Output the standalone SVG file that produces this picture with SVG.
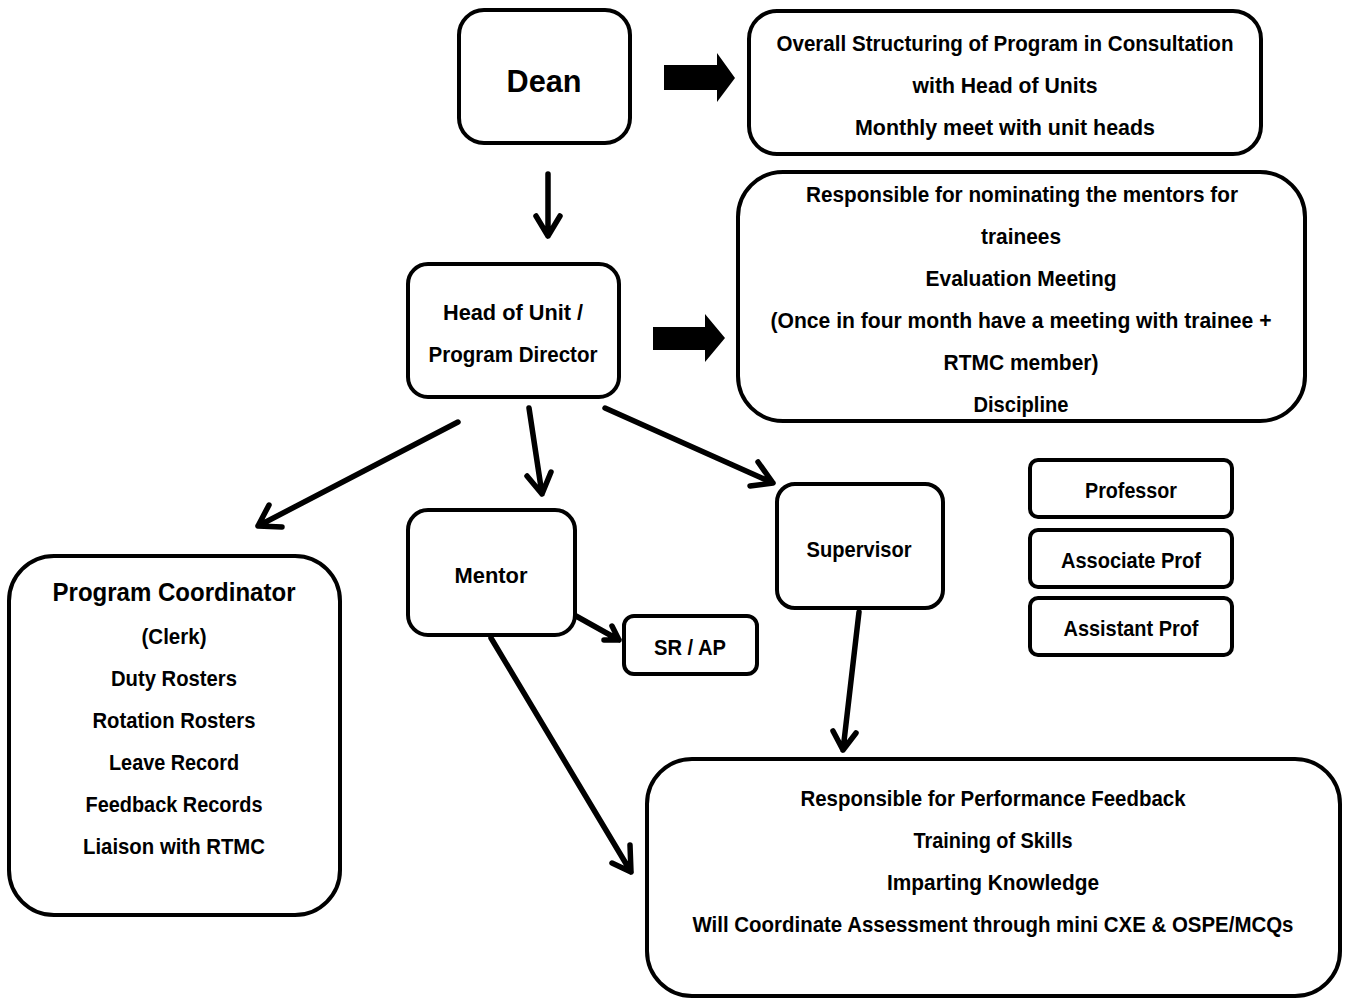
<svg xmlns="http://www.w3.org/2000/svg" width="1346" height="998" viewBox="0 0 1346 998">
<style>
.box{fill:#fff;stroke:#000;stroke-width:4}
.t{font-family:"Liberation Sans",Arial,sans-serif;font-weight:bold;font-size:22px;fill:#000;text-anchor:middle}
.big{font-size:31px}
.mid{font-size:26px}
.ln{fill:none;stroke:#000;stroke-width:5.5;stroke-linecap:round;stroke-linejoin:round}
.blk{fill:#000}
</style>
<rect width="1346" height="998" fill="#fff"/>
<g id="connectors">
<polygon class="blk" points="664,65 717,65 717,53 735,78 717,102 717,90 664,90"/>
<polygon class="blk" points="653,327 705,327 705,314 725,338 705,362 705,350 653,350"/>
<path class="ln" d="M548,174 L548,236 M536,216 L548,236 L560,216"/>
<path class="ln" d="M458,422 L258,526 M269,505 L258,526 L282,527"/>
<path class="ln" d="M529,408 L542,494 M527,476 L542,494 L551,472"/>
<path class="ln" d="M605,408 L773,483 M758,462 L773,483 L750,486"/>
<path class="ln" d="M576,616 L619,640 M604,640 L619,640 L612,626"/>
<path class="ln" d="M859,612 L843,750 M833,731 L843,750 L856,733"/>
<path class="ln" d="M491,638 L631,872 M612,863 L631,872 L630,845"/>
</g>
<g id="dean"><rect class="box" x="459" y="10" width="171" height="133" rx="25"/><text class="t big" x="544" y="92" textLength="75" lengthAdjust="spacingAndGlyphs">Dean</text></g>
<g id="overall"><rect class="box" x="749" y="11" width="512" height="143" rx="28"/>
<text class="t" x="1005" y="51" textLength="457" lengthAdjust="spacingAndGlyphs">Overall Structuring of Program in Consultation</text>
<text class="t" x="1005" y="93" textLength="185" lengthAdjust="spacingAndGlyphs">with Head of Units</text>
<text class="t" x="1005" y="135" textLength="300" lengthAdjust="spacingAndGlyphs">Monthly meet with unit heads</text></g>
<g id="responsible"><rect class="box" x="738" y="172" width="567" height="249" rx="45"/>
<text class="t" x="1022" y="202" textLength="432" lengthAdjust="spacingAndGlyphs">Responsible for nominating the mentors for</text>
<text class="t" x="1021" y="244" textLength="80" lengthAdjust="spacingAndGlyphs">trainees</text>
<text class="t" x="1021" y="286" textLength="191" lengthAdjust="spacingAndGlyphs">Evaluation Meeting</text>
<text class="t" x="1021" y="328" textLength="501" lengthAdjust="spacingAndGlyphs">(Once in four month have a meeting with trainee +</text>
<text class="t" x="1021" y="370" textLength="155" lengthAdjust="spacingAndGlyphs">RTMC member)</text>
<text class="t" x="1021" y="412" textLength="95" lengthAdjust="spacingAndGlyphs">Discipline</text></g>
<g id="head"><rect class="box" x="408" y="264" width="211" height="133" rx="20"/>
<text class="t" x="513" y="320" textLength="140" lengthAdjust="spacingAndGlyphs">Head of Unit /</text>
<text class="t" x="513" y="362" textLength="169" lengthAdjust="spacingAndGlyphs">Program Director</text></g>
<g id="coordinator"><rect class="box" x="9" y="556" width="331" height="359" rx="45"/>
<text class="t mid" x="174" y="601" textLength="243" lengthAdjust="spacingAndGlyphs">Program Coordinator</text>
<text class="t" x="174" y="644" textLength="65" lengthAdjust="spacingAndGlyphs">(Clerk)</text>
<text class="t" x="174" y="686" textLength="126" lengthAdjust="spacingAndGlyphs">Duty Rosters</text>
<text class="t" x="174" y="728" textLength="163" lengthAdjust="spacingAndGlyphs">Rotation Rosters</text>
<text class="t" x="174" y="770" textLength="130" lengthAdjust="spacingAndGlyphs">Leave Record</text>
<text class="t" x="174" y="812" textLength="177" lengthAdjust="spacingAndGlyphs">Feedback Records</text>
<text class="t" x="174" y="854" textLength="182" lengthAdjust="spacingAndGlyphs">Liaison with RTMC</text></g>
<g id="mentor"><rect class="box" x="408" y="510" width="167" height="125" rx="20"/><text class="t" x="491" y="583" textLength="73" lengthAdjust="spacingAndGlyphs">Mentor</text></g>
<g id="srap"><rect class="box" x="624" y="616" width="133" height="58" rx="10"/><text class="t" x="690" y="655" textLength="72" lengthAdjust="spacingAndGlyphs">SR / AP</text></g>
<g id="supervisor"><rect class="box" x="777" y="484" width="166" height="124" rx="18"/><text class="t" x="859" y="557" textLength="105" lengthAdjust="spacingAndGlyphs">Supervisor</text></g>
<g id="professor"><rect class="box" x="1030" y="460" width="202" height="57" rx="8"/><text class="t" x="1131" y="498" textLength="92" lengthAdjust="spacingAndGlyphs">Professor</text></g>
<g id="associate"><rect class="box" x="1030" y="530" width="202" height="57" rx="8"/><text class="t" x="1131" y="568" textLength="140" lengthAdjust="spacingAndGlyphs">Associate Prof</text></g>
<g id="assistant"><rect class="box" x="1030" y="598" width="202" height="57" rx="8"/><text class="t" x="1131" y="636" textLength="135" lengthAdjust="spacingAndGlyphs">Assistant Prof</text></g>
<g id="performance"><rect class="box" x="647" y="759" width="693" height="237" rx="45"/>
<text class="t" x="993" y="806" textLength="385" lengthAdjust="spacingAndGlyphs">Responsible for Performance Feedback</text>
<text class="t" x="993" y="848" textLength="159" lengthAdjust="spacingAndGlyphs">Training of Skills</text>
<text class="t" x="993" y="890" textLength="212" lengthAdjust="spacingAndGlyphs">Imparting Knowledge</text>
<text class="t" x="993" y="932" textLength="601" lengthAdjust="spacingAndGlyphs">Will Coordinate Assessment through mini CXE &amp; OSPE/MCQs</text></g>
</svg>
